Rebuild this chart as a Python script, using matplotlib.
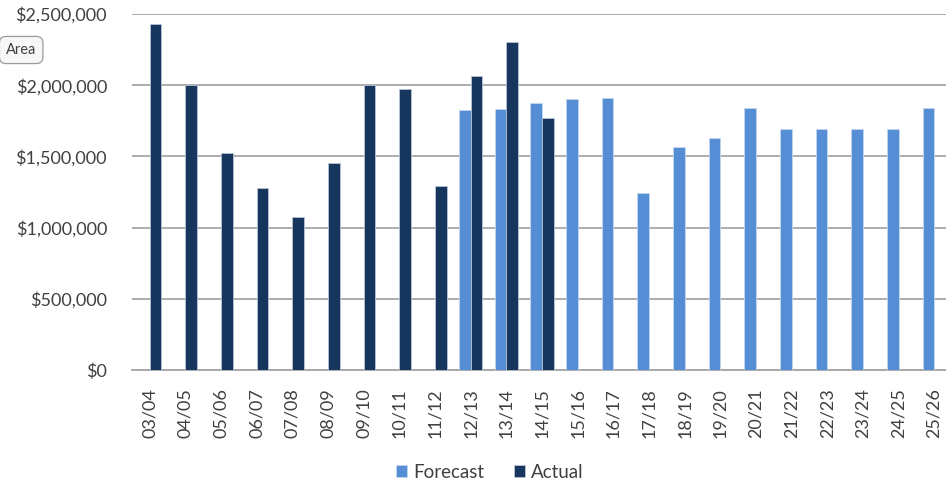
import numpy as np
import matplotlib
matplotlib.use('Agg')
import matplotlib.pyplot as plt
from matplotlib.ticker import FuncFormatter

plt.rcParams['font.family'] = ['Lato', 'DejaVu Sans']

years = ['03/04', '04/05', '05/06', '06/07', '07/08', '08/09', '09/10', '10/11',
         '11/12', '12/13', '13/14', '14/15', '15/16', '16/17', '17/18', '18/19',
         '19/20', '20/21', '21/22', '22/23', '23/24', '24/25', '25/26']

forecast = [0, 0, 0, 0, 0, 0, 0, 0,
            0, 1823000, 1835000, 1877000, 1901000, 1908000, 1241000, 1568000,
            1631000, 1842000, 1695000, 1695000, 1695000, 1695000, 1842000]

actual = [2430000, 2000000, 1526000, 1280000, 1077000, 1451000, 2000000, 1971000,
          1292000, 2067000, 2301000, 1770000, 0, 0, 0, 0,
          0, 0, 0, 0, 0, 0, 0]

fc_color = '#558ed5'
act_color = '#17365d'
text_color = '#404040'

fig = plt.figure(figsize=(9.46, 4.86), dpi=100)
ax = fig.add_axes([132 / 946, 1 - 370 / 486, 820 / 946, 356 / 486])

x = np.arange(len(years))
w = 0.325
ax.bar(x - w / 2, forecast, w, color=fc_color, edgecolor='#c5d6ee', linewidth=0.6,
       label='Forecast', zorder=3)
ax.bar(x + w / 2, actual, w, color=act_color, edgecolor='#b8c4d6', linewidth=0.6,
       label='Actual', zorder=3)

ax.set_xlim(-0.5, len(years) - 0.5)
ax.set_ylim(0, 2500000)
ax.set_yticks(np.arange(0, 2500001, 500000))
ax.yaxis.set_major_formatter(FuncFormatter(lambda v, p: '${:,.0f}'.format(v)))
ax.set_xticks(x)
ax.set_xticklabels(years, rotation=90)

ax.grid(axis='y', color='#a6a6a6', linewidth=1.3, zorder=0)
for s in ['left', 'right', 'top']:
    ax.spines[s].set_visible(False)
ax.spines['bottom'].set_color('#a6a6a6')
ax.spines['bottom'].set_linewidth(1.3)
ax.tick_params(axis='both', length=0, labelsize=13, colors=text_color)
ax.tick_params(axis='y', pad=18)
ax.tick_params(axis='x', pad=13)

fig.legend(loc='center', bbox_to_anchor=(490 / 946, 1 - 472 / 486), ncol=2,
           frameon=False, fontsize=13.5, handlelength=0.55, handleheight=0.55,
           handletextpad=0.35, columnspacing=1.6, labelcolor=text_color)

# tooltip at top-left
fig.text(6 / 946, 1 - 50 / 486, 'Area', fontsize=10.5, color=text_color, va='center',
         bbox=dict(boxstyle='round,pad=0.45', fc='#f6f7f9', ec='#9a9a9a', lw=0.9))

fig.savefig('out.png', dpi=100)
